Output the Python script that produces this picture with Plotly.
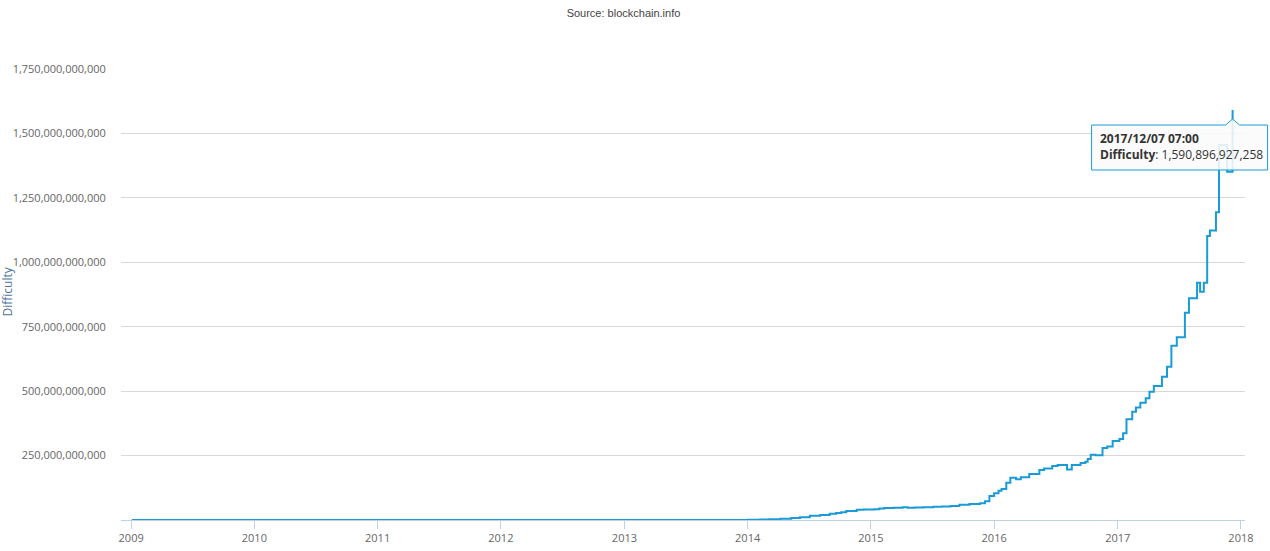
import pandas as pd
import plotly.graph_objects as go

# ---- data ----
dates = [
    "2009-01-03", "2009-12-30", "2010-07-16", "2010-12-30", "2011-06-30", "2011-12-31",
    "2012-06-30", "2012-12-31", "2013-06-30", "2013-10-31", "2013-12-31",
    "2014-01-12", "2014-02-06", "2014-03-06", "2014-04-08", "2014-05-10", "2014-06-05",
    "2014-07-04", "2014-08-04", "2014-09-01", "2014-09-20", "2014-10-05", "2014-10-20",
    "2014-11-20", "2014-12-10",
    "2015-01-12", "2015-01-26", "2015-02-10", "2015-03-10", "2015-04-05", "2015-04-20",
    "2015-05-10", "2015-06-05", "2015-07-05", "2015-07-30", "2015-08-25", "2015-09-20",
    "2015-10-20", "2015-11-20", "2015-12-05", "2015-12-18",
    "2016-01-01", "2016-01-14", "2016-01-23", "2016-02-06", "2016-02-18", "2016-03-06",
    "2016-03-20", "2016-04-14", "2016-05-14", "2016-05-28", "2016-06-21", "2016-07-07",
    "2016-08-04", "2016-08-18", "2016-09-13", "2016-09-27", "2016-10-04", "2016-10-13",
    "2016-10-27", "2016-11-17", "2016-12-01", "2016-12-17",
    "2017-01-06", "2017-01-17", "2017-01-27", "2017-02-13", "2017-02-24", "2017-03-09",
    "2017-03-25", "2017-04-05", "2017-04-18", "2017-05-12", "2017-05-27", "2017-06-09",
    "2017-06-25", "2017-07-19", "2017-07-31", "2017-08-24", "2017-09-02", "2017-09-13",
    "2017-09-23", "2017-10-01", "2017-10-19", "2017-10-28", "2017-11-21",
    "2017-12-07 07:00",
]
difficulty = [
    1, 1.18, 181.5, 14484, 1379223, 1159929,
    1866391, 3438908, 19339258, 267731249, 1180923195,
    1.418e9, 2.194e9, 3.129e9, 5.007e9, 8.000e9, 10.456e9,
    16.818e9, 19.729e9, 23.844e9, 27.428e9, 29.829e9, 35.002e9,
    39.603e9, 40.300e9,
    41.272e9, 44.455e9, 46.684e9, 47.428e9, 49.402e9, 47.589e9,
    48.807e9, 49.693e9, 51.076e9, 52.278e9, 54.256e9, 59.335e9,
    62.253e9, 65.2e9, 72.7e9, 93.4e9,
    103.9e9, 113.4e9, 120.0e9, 144.1e9, 163.5e9, 158.4e9,
    165.5e9, 178.7e9, 194.3e9, 199.9e9, 209.8e9, 213.4e9,
    196.1e9, 213.5e9, 220.7e9, 225.8e9, 237.0e9, 253.6e9,
    251.0e9, 279.0e9, 285.0e9, 307.0e9,
    314.0e9, 336.9e9, 391.0e9, 420.0e9, 437.0e9, 455.0e9,
    472.0e9, 498.0e9, 520.0e9, 556.0e9, 595.0e9, 676.0e9,
    709.0e9, 804.0e9, 860.0e9, 921.0e9, 886.0e9, 921.0e9,
    1102.0e9, 1123.0e9, 1194.0e9, 1455.0e9, 1351.0e9,
    1590896927258,
]

year_ticks = ["2009-01-01", "2010-01-01", "2011-01-01", "2012-01-01", "2013-01-01",
              "2014-01-01", "2015-01-01", "2016-01-01", "2017-01-01", "2018-01-01"]
year_labels = ["2009", "2010", "2011", "2012", "2013", "2014", "2015", "2016", "2017", "2018"]
y_ticks = [250e9, 500e9, 750e9, 1000e9, 1250e9, 1500e9, 1750e9]
y_labels = ["250,000,000,000", "500,000,000,000", "750,000,000,000", "1,000,000,000,000",
            "1,250,000,000,000", "1,500,000,000,000", "1,750,000,000,000"]

x_range = ["2008-12-02", "2018-01-13"]
y_range = [0, 1.75e12]

LINE = "#1a9bd7"
AXIS_FONT = dict(family="Open Sans", size=11, color="#666666")

x_dates = pd.to_datetime(dates, format="mixed")

fig = go.Figure()
fig.add_trace(go.Scatter(
    x=x_dates, y=difficulty, mode="lines",
    line=dict(color=LINE, width=2, shape="hv"),
    hoverinfo="skip", showlegend=False,
))

# tooltip anchored at the last data point
t0, t1 = pd.Timestamp(x_range[0]), pd.Timestamp(x_range[1])
last_t = x_dates[-1]
xp = (last_t - t0) / (t1 - t0)
yp = (difficulty[-1] - y_range[0]) / (y_range[1] - y_range[0])

fig.add_shape(
    type="path", xref="paper", yref="paper",
    xsizemode="pixel", ysizemode="pixel", xanchor=xp, yanchor=yp,
    path="M-141,-15 L-7,-15 L0,-9 L7,-15 L35,-15 L35,-60 L-141,-60 Z",
    fillcolor="rgba(250,250,250,0.88)", line=dict(color=LINE, width=1),
    layer="above",
)
tip_text = "<b>{}</b><br><b>Difficulty</b>: {:,}".format(
    last_t.strftime("%Y/%m/%d %H:%M"), int(difficulty[-1]))
fig.add_annotation(
    xref="paper", yref="paper", x=xp, y=yp, xshift=-135, yshift=-36,
    xanchor="left", yanchor="middle", align="left", showarrow=False,
    text=tip_text, font=dict(family="Open Sans", size=12, color="#333333"),
)

# y axis title at the left edge
fig.add_annotation(
    xref="paper", yref="paper", x=(7 - 121) / 1124, y=(520 - 291.5) / 451,
    xanchor="center", yanchor="middle", textangle=-90, showarrow=False,
    text="Difficulty", font=dict(family="Open Sans", size=12, color="#4d759e"),
)

fig.update_layout(
    width=1270, height=551,
    margin=dict(l=121, r=25, t=69, b=31, autoexpand=False),
    paper_bgcolor="white", plot_bgcolor="white",
    title=dict(text="Source: blockchain.info", x=623.5 / 1270, xref="container",
               xanchor="center", y=1 - 13 / 551, yref="container", yanchor="middle",
               font=dict(family="Liberation Sans, Arial", size=11, color="#444444")),
    xaxis=dict(
        type="date", range=x_range, tickvals=year_ticks, ticktext=year_labels,
        showgrid=False, zeroline=False, showline=True, linecolor="#c0d0e0", linewidth=1,
        ticks="outside", ticklen=8, tickcolor="#c0d0e0", tickwidth=1,
        tickfont=AXIS_FONT, layer="below traces", automargin=False,
    ),
    yaxis=dict(
        range=y_range, tickvals=y_ticks, ticktext=y_labels,
        showgrid=True, gridcolor="#d8d8d8", gridwidth=1, zeroline=False, showline=False,
        ticks="outside", ticklen=12, tickcolor="rgba(0,0,0,0)",
        tickfont=AXIS_FONT, automargin=False,
    ),
    hovermode=False,
)

fig.write_html("out.html")
